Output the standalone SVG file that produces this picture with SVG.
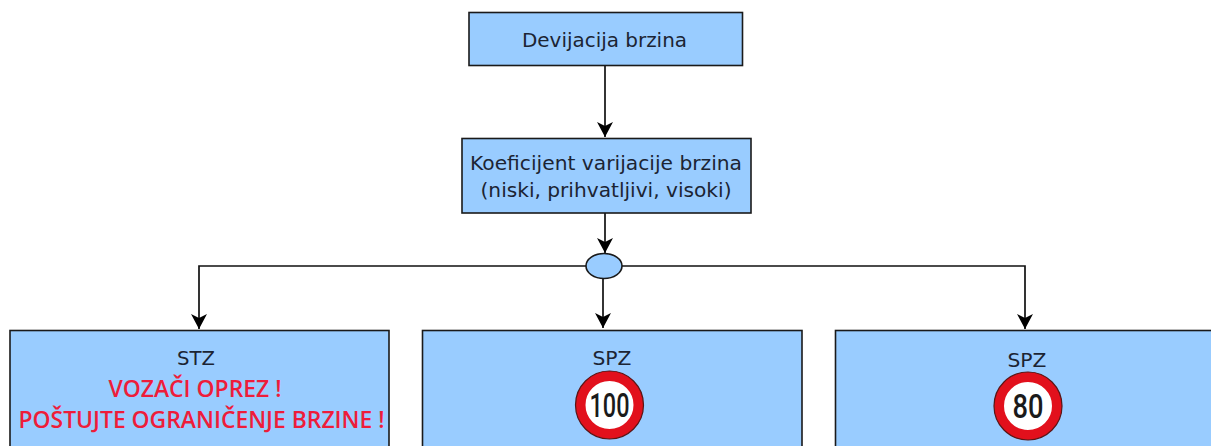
<svg xmlns="http://www.w3.org/2000/svg" width="1211" height="446" viewBox="0 0 1211 446">
<style>
.box{fill:#99ccff;stroke:#1a1a1a;stroke-width:1.6}
.t{font-family:"DejaVu Sans",Verdana,sans-serif;font-size:20px;fill:#1c2433;text-anchor:middle}
.r{font-family:"Open Sans","Liberation Sans",sans-serif;font-size:23px;font-weight:600;fill:#ee1c3a;text-anchor:middle}
.c{fill:none;stroke:#111;stroke-width:1.7}
.ring{fill:#fff;stroke:#e2101c;stroke-width:10}
.edge{fill:none;stroke:#5a1515;stroke-width:1.2}
.n{font-family:"Roboto","DejaVu Sans",sans-serif;font-weight:500;fill:#1a1a1a;text-anchor:middle}
</style>
<defs>
<marker id="a" markerUnits="userSpaceOnUse" markerWidth="18" markerHeight="18" refX="16" refY="9" orient="auto">
<path d="M1 1 L16 9 L1 17 L5 9 Z" fill="#000"/>
</marker>
</defs>
<rect width="1211" height="446" fill="#fff"/>
<g id="connectors">
<path class="c" marker-end="url(#a)" d="M605 65V137"/>
<path class="c" marker-end="url(#a)" d="M605 213V253"/>
<path class="c" marker-end="url(#a)" d="M586 266H199V329"/>
<path class="c" marker-end="url(#a)" d="M603 278V328"/>
<path class="c" marker-end="url(#a)" d="M622 266H1025V329"/>
</g>
<g id="n1"><rect class="box" x="469" y="12.500" width="273.500" height="53"/><text class="t" x="604.500" y="46.500" textLength="165" lengthAdjust="spacingAndGlyphs">Devijacija brzina</text></g>
<g id="n2"><rect class="box" x="462" y="138.500" width="289" height="74.500"/><text class="t" x="606" y="169.500" textLength="272" lengthAdjust="spacingAndGlyphs">Koeficijent varijacije brzina</text><text class="t" x="606" y="197" textLength="251" lengthAdjust="spacingAndGlyphs">(niski, prihvatljivi, visoki)</text></g>
<g id="junction"><ellipse class="box" cx="604" cy="266" rx="18" ry="12.500"/></g>
<g id="stz"><rect class="box" x="10" y="330.500" width="379" height="130"/><text class="t" x="196" y="365" textLength="38" lengthAdjust="spacingAndGlyphs">STZ</text><text class="r" x="195" y="397" textLength="173" lengthAdjust="spacingAndGlyphs">VOZAČI OPREZ !</text><text class="r" x="201.500" y="428" textLength="366" lengthAdjust="spacingAndGlyphs">POŠTUJTE OGRANIČENJE BRZINE !</text></g>
<g id="spz100"><rect class="box" x="422.500" y="330.500" width="379.500" height="130"/><text class="t" x="612" y="365" textLength="39" lengthAdjust="spacingAndGlyphs">SPZ</text><circle class="ring" cx="609.500" cy="405" r="29"/><circle class="edge" cx="609.500" cy="405" r="34"/><text class="n" x="609.500" y="417" font-size="33" textLength="40" lengthAdjust="spacingAndGlyphs">100</text></g>
<g id="spz80"><rect class="box" x="835.500" y="330.500" width="390" height="130"/><text class="t" x="1027" y="366.500" textLength="39" lengthAdjust="spacingAndGlyphs">SPZ</text><circle class="ring" cx="1028" cy="406" r="29"/><circle class="edge" cx="1028" cy="406" r="34"/><text class="n" x="1028" y="418" font-size="33" textLength="31" lengthAdjust="spacingAndGlyphs">80</text></g>
</svg>
